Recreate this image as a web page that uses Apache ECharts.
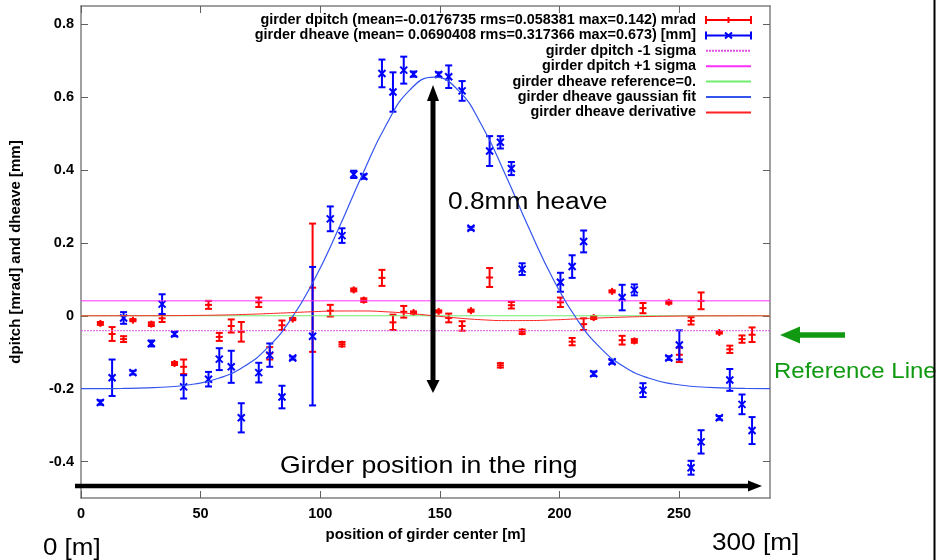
<!DOCTYPE html>
<html><head><meta charset="utf-8">
<script src="https://cdn.jsdelivr.net/npm/echarts@6/dist/echarts.min.js"></script>
<style>html,body{margin:0;padding:0;background:#fff}#c{width:937px;height:560px}</style>
</head><body><div id="c"></div>
<script>
// girder centre positions [m]
const positions = [8.1, 13.0, 17.8, 21.7, 29.4, 33.9, 39.1, 42.9, 53.3, 57.8, 62.8, 67.0, 74.3, 78.9, 84.0, 88.5, 96.8,
  104.2, 109.1, 114.0, 118.2, 125.8, 130.4, 134.9, 139.0, 149.5, 153.7, 159.3, 163.0, 170.8, 175.3, 179.9, 184.4,
  200.4, 205.3, 210.1, 214.3, 222.0, 226.2, 231.3, 234.9, 245.7, 250.1, 255.0, 259.2, 266.8, 271.2, 276.3, 280.5];
// girder dpitch [mrad] and its error
const dpitch = [-0.021, -0.050, -0.064, -0.012, -0.023, -0.007, -0.131, -0.140, 0.030, -0.058, -0.028, -0.044, 0.037, -0.103, -0.026, -0.009, 0.077,
  0.014, -0.078, 0.071, 0.043, 0.104, -0.018, 0.011, 0.009, 0.012, -0.006, -0.028, 0.014, 0.105, -0.136, 0.029, -0.044,
  0.037, -0.071, -0.023, -0.005, 0.067, -0.067, -0.069, 0.021, 0.037, -0.107, -0.014, 0.041, -0.046, -0.092, -0.064, -0.052];
const dpitchErr = [0.004, 0.019, 0.008, 0.003, 0.005, 0.010, 0.004, 0.020, 0.011, 0.011, 0.018, 0.027, 0.013, 0.017, 0.013, 0.003, 0.176,
  0.016, 0.006, 0.004, 0.005, 0.022, 0.021, 0.016, 0.003, 0.003, 0.012, 0.013, 0.003, 0.026, 0.006, 0.009, 0.006,
  0.013, 0.010, 0.016, 0.004, 0.003, 0.012, 0.005, 0.014, 0.004, 0.020, 0.010, 0.023, 0.003, 0.010, 0.010, 0.020];
// girder dheave [mm] and its error
const dheave = [-0.238, -0.170, -0.006, -0.156, -0.076, 0.032, -0.050, -0.195, -0.174, -0.119, -0.140, -0.280, -0.156, -0.108, -0.223, -0.116, -0.056,
  0.266, 0.220, 0.388, 0.382, 0.665, 0.614, 0.674, 0.663, 0.662, 0.656, 0.617, 0.240, 0.452, 0.476, 0.404, 0.128,
  0.092, 0.135, 0.204, -0.159, -0.126, 0.050, 0.071, -0.204, -0.116, -0.080, -0.417, -0.346, -0.280, -0.176, -0.243, -0.315];
const dheaveErr = [0.006, 0.050, 0.016, 0.005, 0.008, 0.027, 0.006, 0.032, 0.020, 0.030, 0.044, 0.040, 0.027, 0.032, 0.031, 0.004, 0.190,
  0.034, 0.020, 0.010, 0.006, 0.038, 0.054, 0.037, 0.007, 0.006, 0.031, 0.027, 0.004, 0.041, 0.017, 0.018, 0.016,
  0.026, 0.031, 0.030, 0.006, 0.005, 0.035, 0.015, 0.019, 0.005, 0.040, 0.019, 0.032, 0.005, 0.030, 0.027, 0.037];
// gaussian fit and derivative curves
const fitX = [0, 7.5, 17.5, 27.5, 37.5, 47.5, 57.5, 67.5, 77.5, 87.5, 97.5, 107.5, 117.5, 127.5, 137.5, 147.5,
  157.5, 167.5, 177.5, 187.5, 197.5, 207.5, 217.5, 227.5, 237.5, 247.5, 257.5, 267.5, 277.5, 288];
const fitY = [-0.200, -0.1998, -0.1993, -0.1980, -0.1947, -0.1872, -0.1715, -0.1419, -0.0908, -0.0116, 0.0991, 0.2366, 0.3858, 0.5227, 0.6198, 0.655,
  0.6198, 0.5227, 0.3858, 0.2366, 0.0991, -0.0116, -0.0908, -0.1419, -0.1715, -0.1872, -0.1947, -0.1980, -0.1993, -0.1998];
const derivY = [0, 0, 0.0001, 0.0002, 0.0004, 0.0010, 0.0019, 0.0035, 0.0058, 0.0085, 0.0113, 0.0131, 0.0132, 0.0109, 0.0062, 0,
  -0.0062, -0.0109, -0.0132, -0.0131, -0.0113, -0.0085, -0.0058, -0.0035, -0.0019, -0.0010, -0.0004, -0.0002, -0.0001, 0];
const sigmaMinus = -0.041;
const sigmaPlus = 0.041;
const referenceLevel = 0;
const xRange = [0, 288];
const yRange = [-0.5, 0.85];
const xTicks = [0, 50, 100, 150, 200, 250];
const yTicks = [-0.4, -0.2, 0, 0.2, 0.4, 0.6, 0.8];

const names = [
  'girder dpitch (mean=-0.0176735 rms=0.058381 max=0.142) mrad',
  'girder dheave (mean= 0.0690408 rms=0.317366 max=0.673) [mm]',
  'girder dpitch -1 sigma',
  'girder dpitch +1 sigma',
  'girder dheave reference=0.',
  'girder dheave gaussian fit',
  'girder dheave derivative'
];
const RED = '#ff0000', BLUE = '#0000ff';
const FONT = '"Liberation Sans", Arial, Helvetica, sans-serif';

function errorBar(kind, color) {
  return function (params, api) {
    const x = api.value(0), y = api.value(1), e = api.value(2);
    const c = api.coord([x, y]), hi = api.coord([x, y + e]), lo = api.coord([x, y - e]);
    const w = 3.5, m = 3.5;
    const st = { stroke: color, lineWidth: 2, fill: null };
    const ch = [
      { type: 'line', shape: { x1: c[0], y1: Math.min(hi[1], c[1] - (kind === '+' ? m : 0)), x2: c[0], y2: Math.max(lo[1], c[1] + (kind === '+' ? m : 0)) }, style: st },
      { type: 'line', shape: { x1: c[0] - w, y1: hi[1], x2: c[0] + w, y2: hi[1] }, style: st },
      { type: 'line', shape: { x1: c[0] - w, y1: lo[1], x2: c[0] + w, y2: lo[1] }, style: st }
    ];
    if (kind === 'x') {
      ch.push({ type: 'line', shape: { x1: c[0] - m, y1: c[1] - m, x2: c[0] + m, y2: c[1] + m }, style: st });
      ch.push({ type: 'line', shape: { x1: c[0] - m, y1: c[1] + m, x2: c[0] + m, y2: c[1] - m }, style: st });
    } else {
      ch.push({ type: 'line', shape: { x1: c[0] - m, y1: c[1], x2: c[0] + m, y2: c[1] }, style: st });
    }
    return { type: 'group', children: ch };
  };
}
function flat(v) { return [[xRange[0], v], [xRange[1], v]]; }
function lineSeries(name, data, color, width, type, smooth) {
  return { name, type: 'line', data, symbol: 'none', smooth: !!smooth, animation: false,
    lineStyle: { color, width, type: type || 'solid' }, itemStyle: { color } };
}
const hideDot = { color: 'rgba(0,0,0,0)', borderWidth: 0 };

const chart = echarts.init(document.getElementById('c'));
const tickLabel = { fontFamily: FONT, fontWeight: 'bold', fontSize: 14.5, color: '#000' };
const axisLine = { show: true, onZero: false, lineStyle: { color: '#808080', width: 1.5 } };
const xTick = { show: true, inside: true, length: 7, customValues: xTicks, lineStyle: { color: '#606060', width: 1 } };
const yTick = { show: true, inside: true, length: 7, customValues: yTicks, lineStyle: { color: '#606060', width: 1 } };

chart.setOption({
  animation: false,
  backgroundColor: '#fff',
  grid: { left: 81, right: 167, top: 6, bottom: 62, containLabel: false },
  xAxis: [
    { type: 'value', min: xRange[0], max: xRange[1], position: 'bottom',
      axisLine, axisTick: xTick, splitLine: { show: false },
      axisLabel: Object.assign({ margin: 8, customValues: xTicks }, tickLabel),
      name: 'position of girder center [m]', nameLocation: 'middle', nameGap: 29,
      nameTextStyle: { fontFamily: FONT, fontWeight: 'bold', fontSize: 15, color: '#000' } },
    { type: 'value', min: xRange[0], max: xRange[1], position: 'top',
      axisLine, axisTick: xTick, splitLine: { show: false }, axisLabel: { show: false } }
  ],
  yAxis: [
    { type: 'value', min: yRange[0], max: yRange[1], position: 'left',
      axisLine, axisTick: yTick, splitLine: { show: false },
      axisLabel: Object.assign({ margin: 7, customValues: yTicks,
        formatter: v => (Math.abs(v) < 1e-9 ? '0' : v.toFixed(1)) }, tickLabel),
      name: 'dpitch [mrad] and dheave [mm]', nameLocation: 'middle', nameGap: 58, nameRotate: 90,
      nameTextStyle: { fontFamily: FONT, fontWeight: 'bold', fontSize: 15, color: '#000' } },
    { type: 'value', min: yRange[0], max: yRange[1], position: 'right',
      axisLine, axisTick: yTick, splitLine: { show: false }, axisLabel: { show: false } }
  ],
  legend: {
    orient: 'vertical', right: 180, top: 8, align: 'right', selectedMode: false,
    itemWidth: 45, itemHeight: 8, itemGap: 1.4,
    textStyle: { fontFamily: FONT, fontWeight: 'bold', fontSize: 14.4, lineHeight: 14, color: '#000', padding: [0, 5, 0, 0] },
    data: [
      { name: names[0], icon: 'path://M0,0L0,8M0,4L45,4M45,0L45,8M22.5,1L22.5,7',
        itemStyle: { color: 'rgba(0,0,0,0)', borderColor: RED, borderWidth: 2 } },
      { name: names[1], icon: 'path://M0,0L0,8M0,4L45,4M45,0L45,8M19,1L26,7M19,7L26,1',
        itemStyle: { color: 'rgba(0,0,0,0)', borderColor: BLUE, borderWidth: 2 } },
      { name: names[2], itemStyle: hideDot }, { name: names[3], itemStyle: hideDot },
      { name: names[4], itemStyle: hideDot }, { name: names[5], itemStyle: hideDot },
      { name: names[6], itemStyle: hideDot }
    ]
  },
  series: [
    { name: names[0], type: 'custom', renderItem: errorBar('+', RED), itemStyle: { color: RED },
      encode: { x: 0, y: 1 }, clip: true,
      data: positions.map((x, i) => [x, dpitch[i], dpitchErr[i]]) },
    { name: names[1], type: 'custom', renderItem: errorBar('x', BLUE), itemStyle: { color: BLUE },
      encode: { x: 0, y: 1 }, clip: true,
      data: positions.map((x, i) => [x, dheave[i], dheaveErr[i]]) },
    lineSeries(names[2], flat(sigmaMinus), '#e050e0', 1, [2, 1]),
    lineSeries(names[3], flat(sigmaPlus), '#ff30ff', 1),
    lineSeries(names[4], flat(referenceLevel), '#70ee70', 1),
    lineSeries(names[5], fitX.map((x, i) => [x, fitY[i]]), '#3355ee', 1.2, 'solid', true),
    lineSeries(names[6], fitX.map((x, i) => [x, derivY[i]]), '#ff2020', 1, 'solid', true)
  ],
  graphic: [
    // vertical double arrow
    { type: 'line', shape: { x1: 433, y1: 98, x2: 433, y2: 382 }, style: { stroke: '#000', lineWidth: 5 }, z: 100 },
    { type: 'polygon', shape: { points: [[433, 85], [427, 101], [439, 101]] }, style: { fill: '#000' }, z: 100 },
    { type: 'polygon', shape: { points: [[433, 393], [426.5, 380], [439.5, 380]] }, style: { fill: '#000' }, z: 100 },
    { type: 'text', x: 448, y: 203, scaleX: 1.12, z: 100,
      style: { text: '0.8mm heave', font: '23.5px ' + FONT, fill: '#000', verticalAlign: 'middle' } },
    // horizontal arrow
    { type: 'line', shape: { x1: 75, y1: 486, x2: 750, y2: 486 }, style: { stroke: '#000', lineWidth: 4.5 }, z: 100 },
    { type: 'polygon', shape: { points: [[762, 486], [748, 480.5], [748, 491.5]] }, style: { fill: '#000' }, z: 100 },
    { type: 'text', x: 280, y: 466, scaleX: 1.11, z: 100,
      style: { text: 'Girder position in the ring', font: '24px ' + FONT, fill: '#000', verticalAlign: 'middle' } },
    // green reference arrow
    { type: 'line', shape: { x1: 797, y1: 335, x2: 845, y2: 335 }, style: { stroke: '#119a11', lineWidth: 5.5 }, z: 100 },
    { type: 'polygon', shape: { points: [[780, 335], [800, 326.5], [800, 343.5]] }, style: { fill: '#119a11' }, z: 100 },
    { type: 'text', x: 774, y: 372, scaleX: 1.09, z: 100,
      style: { text: 'Reference Line', font: '22px ' + FONT, fill: '#119a11', verticalAlign: 'middle' } },
    { type: 'text', x: 43, y: 548, scaleX: 1.08, z: 100,
      style: { text: '0 [m]', font: '24px ' + FONT, fill: '#000', verticalAlign: 'middle' } },
    { type: 'text', x: 712, y: 543, scaleX: 1.09, z: 100,
      style: { text: '300 [m]', font: '24px ' + FONT, fill: '#000', verticalAlign: 'middle' } },
    { type: 'line', shape: { x1: 934.5, y1: 0, x2: 934.5, y2: 560 }, style: { stroke: '#000', lineWidth: 2 }, z: 100 }
  ]
});
</script></body></html>
